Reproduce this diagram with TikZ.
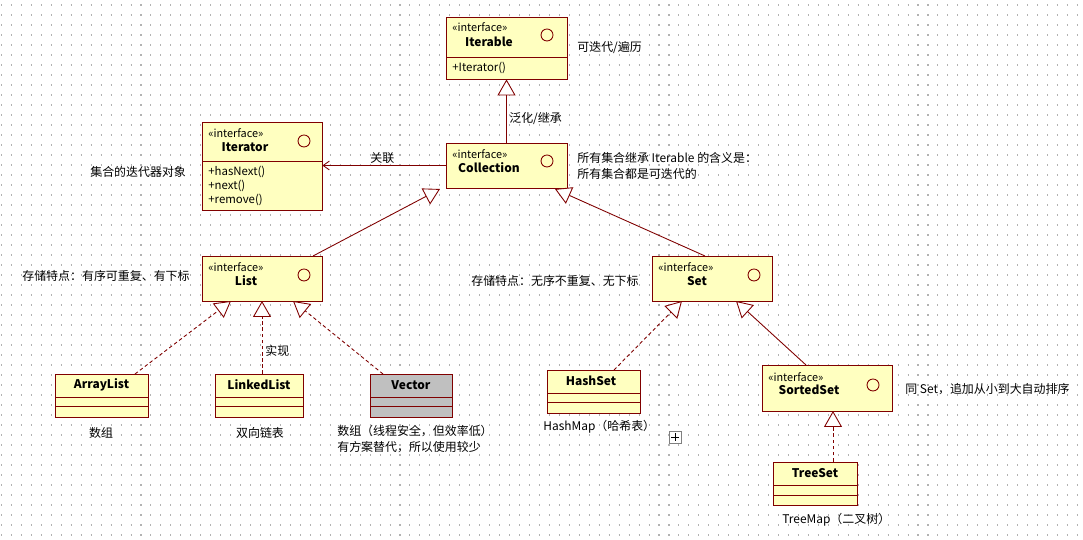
\documentclass[tikz,border=0pt]{standalone}
\usepackage{fontspec}
\setmainfont{Noto Sans CJK SC}
\usetikzlibrary{arrows.meta}
\definecolor{bd}{HTML}{800000}
\definecolor{fl}{HTML}{FFFFC0}
\definecolor{vg}{HTML}{C0C0C0}
\begin{document}
\begin{tikzpicture}[x=0.02cm,y=-0.02cm,
  box/.style={draw=bd,fill=fl,line width=0.5pt,inner sep=0pt},
  div/.style={draw=bd,line width=0.5pt},
  ster/.style={font=\fontsize{6.2}{7}\selectfont,anchor=west,inner sep=0pt},
  nm/.style={font=\fontsize{6.8}{8}\selectfont\bfseries,inner sep=0pt},
  mt/.style={font=\fontsize{6.5}{8}\selectfont,anchor=west,inner sep=0pt},
  note/.style={font=\fontsize{6.8}{8}\selectfont,anchor=west,inner sep=0pt},
  gen/.style={draw=bd,line width=0.5pt,-{Triangle[open,length=0.32cm,width=0.36cm,fill=white]}},
  real/.style={gen,dashed,dash pattern=on 2pt off 1.5pt},
  ico/.style={draw=bd,line width=0.5pt,circle,minimum size=0.24cm,inner sep=0pt}]
\useasboundingbox (0,0) rectangle (1083,540);
\fill[white] (0,0) rectangle (1083,540);
\foreach \yy in {5,15,...,535}
  \draw[gray!60,line width=0.6pt,dash pattern=on 0.6pt off 5.07pt] (1,\yy) -- (1083,\yy);
% Iterable
\node[box,minimum width=2.42cm,minimum height=1.24cm] (iterable) at (506.5,48) {};
\draw[div] (446,57) -- (567,57);
\node[ster] at (452,27) {<<interface>>};
\node[nm] at (489,42) {Iterable};
\node[ico] at (547,35) {};
\node[mt] at (452,68) {+Iterator()};
% Iterator
\node[box,minimum width=2.4cm,minimum height=1.76cm] (iterator) at (262,166) {};
\draw[div] (202,161) -- (322,161);
\node[ster] at (208,133) {<<interface>>};
\node[nm] at (245,147) {Iterator};
\node[ico] at (304,141) {};
\node[mt] at (208,172) {+hasNext()};
\node[mt] at (208,186) {+next()};
\node[mt] at (208,200) {+remove()};
% Collection
\node[box,minimum width=2.42cm,minimum height=0.9cm] (coll) at (506.5,165.5) {};
\node[ster] at (452,154) {<<interface>>};
\node[nm] at (489,168) {Collection};
\node[ico] at (547,161) {};
% List
\node[box,minimum width=2.4cm,minimum height=0.9cm] (list) at (262,278.5) {};
\node[ster] at (208,267) {<<interface>>};
\node[nm] at (246,281) {List};
\node[ico] at (304,275) {};
% Set
\node[box,minimum width=2.4cm,minimum height=0.9cm] (set) at (712,278.5) {};
\node[ster] at (658,267) {<<interface>>};
\node[nm] at (697,281) {Set};
\node[ico] at (754,275) {};
% SortedSet
\node[box,minimum width=2.6cm,minimum height=0.92cm] (sorted) at (827,388) {};
\node[ster] at (768,377) {<<interface>>};
\node[nm] at (809,390) {SortedSet};
\node[ico] at (873,385) {};
% classes
\node[box,minimum width=1.86cm,minimum height=0.86cm] (alist) at (101.5,395.5) {};
\draw[div] (55,397)--(148,397) (55,406)--(148,406);
\node[nm] at (101.5,385) {ArrayList};
\node[box,minimum width=1.76cm,minimum height=0.86cm] (llist) at (259,395.5) {};
\draw[div] (215,397)--(303,397) (215,406)--(303,406);
\node[nm] at (259,385) {LinkedList};
\node[box,fill=vg,minimum width=1.64cm,minimum height=0.86cm] (vector) at (411,395.5) {};
\draw[div] (370,397)--(452,397) (370,406)--(452,406);
\node[nm] at (411,385) {Vector};
\node[box,minimum width=1.86cm,minimum height=0.86cm] (hset) at (593.5,391.5) {};
\draw[div] (547,393)--(640,393) (547,402)--(640,402);
\node[nm] at (591,381) {HashSet};
\node[box,minimum width=1.68cm,minimum height=0.86cm] (tset) at (815,483.5) {};
\draw[div] (773,485)--(857,485) (773,495)--(857,495);
\node[nm] at (815,473) {TreeSet};
% connectors
\draw[gen] (coll.north) -- (iterable.south);
\node[note] at (509,119) {泛化/继承};
\draw[draw=bd,line width=0.5pt,-{Straight Barb[length=3.5pt,width=5pt]}] (coll.west) -- (iterator.east|-coll.west);
\node[note] at (370,158) {关联};
\draw[gen] (313,256) -- (440,189);
\draw[gen] (705,256) -- (555,189);
\draw[real] (135,374) -- (231,301);
\draw[real] (262,374) -- (262,301);
\draw[real] (383,374) -- (293,301);
\node[note] at (265,351) {实现};
\draw[real] (614,370) -- (682,301);
\draw[gen] (806,365) -- (736,301);
\draw[real] (tset.north-|833,0) -- (833,411);
% notes
\node[note] at (577,48) {可迭代/遍历};
\node[note] at (90,172) {集合的迭代器对象};
\node[note] at (577,158) {所有集合继承 Iterable 的含义是：};
\node[note] at (577,174) {所有集合都是可迭代的};
\node[note] at (22,276) {存储特点：有序可重复、有下标};
\node[note] at (471,281) {存储特点：无序不重复、无下标};
\node[note,anchor=center] at (101,433) {数组};
\node[note,anchor=center] at (260,433) {双向链表};
\node[note] at (337,431) {数组（线程安全，但效率低）};
\node[note] at (337,447) {有方案替代，所以使用较少};
\node[note] at (543,427) {HashMap（哈希表）};
\node[note] at (905,389) {同 Set，追加从小到大自动排序};
\node[note] at (782,520) {TreeMap（二叉树）};
\draw[gray,fill=white,line width=0.4pt] (669,431) rectangle (681,443);
\draw[black,line width=0.4pt] (671,437)--(679,437) (675,433)--(675,441);
\end{tikzpicture}
\end{document}
